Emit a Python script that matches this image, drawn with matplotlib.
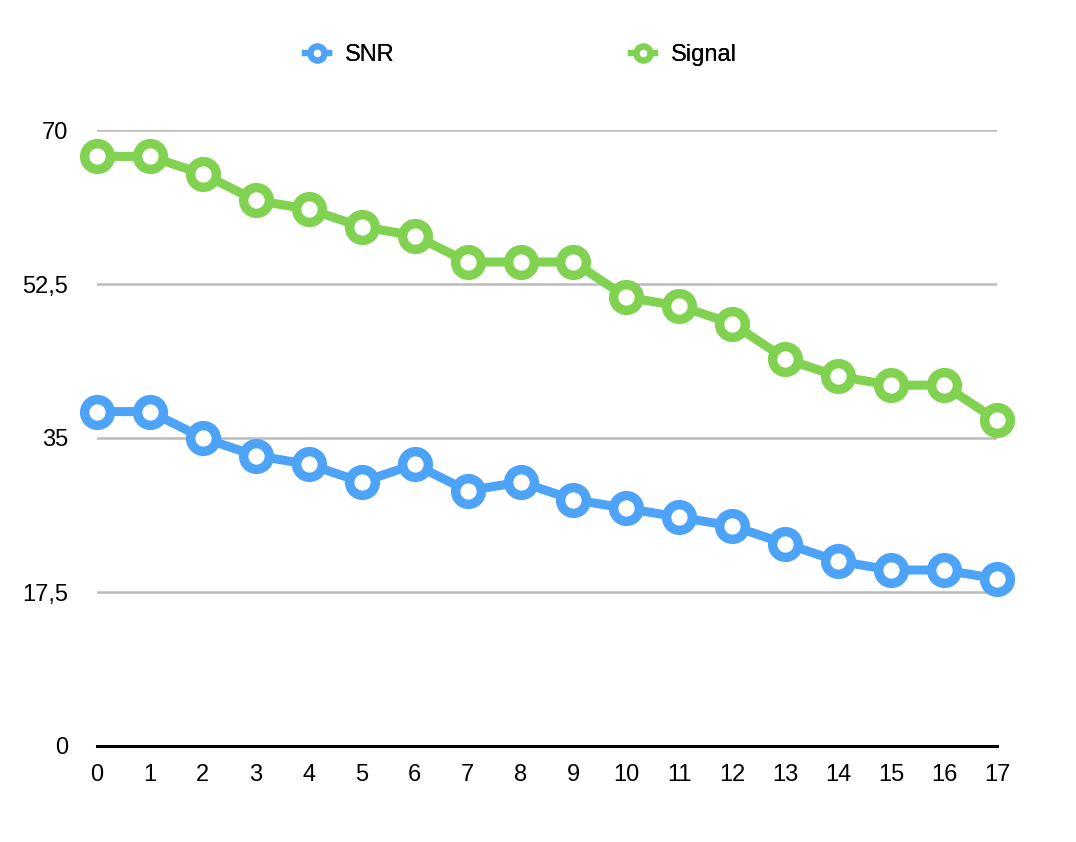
import matplotlib
matplotlib.use("Agg")
import matplotlib.pyplot as plt
from matplotlib.lines import Line2D

x_labels = list(range(18))
snr = [38, 38, 35, 33, 32, 30, 32, 29, 30, 28, 27, 26, 25, 23, 21, 20, 20, 19]
signal = [67, 67, 65, 62, 61, 59, 58, 55, 55, 55, 51, 50, 48, 44, 42, 41, 41, 37]
y_ticks = [0, 17.5, 35, 52.5, 70]
y_tick_labels = ["0", "17,5", "35", "52,5", "70"]
series_names = ["SNR", "Signal"]
colors = ["#4DA3F7", "#81D250"]

plt.rcParams['font.family'] = ['Liberation Sans', 'DejaVu Sans']

fig = plt.figure(figsize=(10.76, 8.42), dpi=100)
ax = fig.add_axes([97/1076, 1 - 746/842, 900/1076, 616/842])

for vals, col in zip([snr, signal], colors):
    ax.plot(x_labels, vals, color=col, lw=6.5, marker='o', ms=18.5,
            mew=6.8, mfc='white', mec=col, clip_on=False, zorder=3,
            solid_joinstyle='round')

ax.set_xlim(0, 17)
ax.set_ylim(0, 70)
ax.set_yticks(y_ticks)
ax.set_yticklabels(y_tick_labels)
ax.set_xticks(x_labels)
ax.set_xticklabels([str(v) for v in x_labels])
ax.tick_params(length=0, labelsize=17, colors='black')
ax.tick_params(axis='y', pad=21)
ax.tick_params(axis='x', pad=13)
ax.grid(axis='y', color='#BBBBBB', lw=1.8)
ax.set_axisbelow(True)
for s in ['top', 'right', 'left']:
    ax.spines[s].set_visible(False)
ax.spines['bottom'].set_linewidth(2.2)
ax.spines['bottom'].set_zorder(2)

legend_x = [305/1076, 631/1076]
for name, col, lx in zip(series_names, colors, legend_x):
    h = Line2D([0], [0], color=col, lw=4.5, marker='o', ms=10, mew=4.5,
               mfc='white', mec=col)
    leg = fig.legend([h], [name], loc='center left',
                     bbox_to_anchor=(lx, 1 - 55/842), frameon=False,
                     fontsize=17, handlelength=1.0, handletextpad=0.7,
                     borderpad=0, borderaxespad=0)
    fig.add_artist(leg)

fig.savefig("out.png", dpi=100, facecolor='white')
